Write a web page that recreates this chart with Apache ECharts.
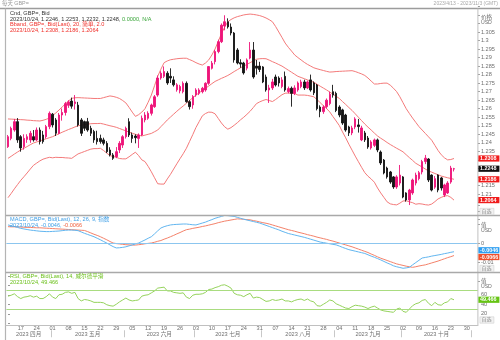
<!DOCTYPE html>
<html>
<head>
<meta charset="utf-8">
<script src="https://cdn.jsdelivr.net/npm/echarts@6/dist/echarts.min.js"></script>
<style>
html,body{margin:0;padding:0;background:#fff;}
#c{width:500px;height:340px;}
</style>
</head>
<body>
<div id="c"></div>
<script>
// Trading days on the category axis (2023)
const dates = [
 '04-11','04-12','04-13','04-14',
 '04-17','04-18','04-19','04-20','04-21','04-24','04-25','04-26','04-27','04-28',
 '05-01','05-02','05-03','05-04','05-05','05-08','05-09','05-10','05-11','05-12',
 '05-15','05-16','05-17','05-18','05-19','05-22','05-23','05-24','05-25','05-26',
 '05-29','05-30','05-31','06-01','06-02','06-05','06-06','06-07','06-08','06-09',
 '06-12','06-13','06-14','06-15','06-16','06-19','06-20','06-21','06-22','06-23',
 '06-26','06-27','06-28','06-29','06-30','07-03','07-04','07-05','07-06','07-07',
 '07-10','07-11','07-12','07-13','07-14','07-17','07-18','07-19','07-20','07-21',
 '07-24','07-25','07-26','07-27','07-28','07-31','08-01','08-02','08-03','08-04',
 '08-07','08-08','08-09','08-10','08-11','08-14','08-15','08-16','08-17','08-18',
 '08-21','08-22','08-23','08-24','08-25','08-28','08-29','08-30','08-31','09-01',
 '09-04','09-05','09-06','09-07','09-08','09-11','09-12','09-13','09-14','09-15',
 '09-18','09-19','09-20','09-21','09-22','09-25','09-26','09-27','09-28','09-29',
 '10-02','10-03','10-04','10-05','10-06','10-09','10-10','10-11','10-12','10-13',
 '10-16','10-17','10-18','10-19','10-20','10-23','10-24','10-25','10-26','10-27',
 '10-30','10-31','11-01','11-02'
];

// Weekly tick labels (Mondays) and month captions
const weekTicks = ['04-17','04-24','05-01','05-08','05-15','05-22','05-29','06-05','06-12','06-19','06-26',
 '07-03','07-10','07-17','07-24','07-31','08-07','08-14','08-21','08-28','09-04','09-11','09-18','09-25',
 '10-02','10-09','10-16','10-23','10-30'];
const monthNames = {'04':'2023 四月','05':'2023 五月','06':'2023 六月','07':'2023 七月','08':'2023 八月','09':'2023 九月','10':'2023 十月'};

// GBP= daily bid candles
const opens = [
 1.2377,1.2426,1.2475,1.2524,1.2436,1.2377,1.2420,1.2417,1.2436,1.2417,
 1.2475,1.2446,1.2436,1.2495,1.2568,1.2534,1.2456,1.2563,1.2578,1.2620,
 1.2645,1.2630,1.2621,1.2534,1.2524,1.2524,1.2485,1.2466,1.2426,1.2426,
 1.2417,1.2397,1.2358,1.2329,1.2319,1.2358,1.2387,1.2436,1.2524,1.2446,
 1.2440,1.2426,1.2446,1.2534,1.2544,1.2573,1.2612,1.2680,1.2780,1.2790,
 1.2808,1.2790,1.2769,1.2711,1.2705,1.2700,1.2749,1.2641,1.2622,1.2681,
 1.2690,1.2700,1.2710,1.2749,1.2837,1.2876,1.2935,1.2993,1.3085,1.3110,
 1.3079,1.3044,1.2944,1.2870,1.2868,1.2838,1.2897,1.2944,1.2850,1.2850,
 1.2845,1.2786,1.2710,1.2722,1.2786,1.2780,1.2730,1.2790,1.2700,1.2720,
 1.2690,1.2710,1.2730,1.2757,1.2722,1.2769,1.2751,1.2739,1.2610,1.2583,
 1.2612,1.2630,1.2700,1.2690,1.2610,1.2593,1.2563,1.2493,1.2458,1.2493,
 1.2505,1.2417,1.2458,1.2428,1.2370,1.2385,1.2417,1.2346,1.2299,1.2252,
 1.2229,1.2200,1.2141,1.2164,1.2200,1.2106,1.2065,1.2106,1.2164,1.2190,
 1.2229,1.2290,1.2305,1.2211,1.2140,1.2211,1.2194,1.2094,1.2106,1.2170,
 1.2246
];
const highs = [
 1.2446,1.2495,1.2540,1.2545,1.2445,1.2450,1.2450,1.2470,1.2475,1.2490,
 1.2490,1.2470,1.2505,1.2584,1.2575,1.2545,1.2575,1.2601,1.2640,1.2650,
 1.2665,1.2680,1.2640,1.2545,1.2530,1.2546,1.2500,1.2476,1.2471,1.2448,
 1.2430,1.2410,1.2374,1.2340,1.2375,1.2410,1.2445,1.2495,1.2544,1.2460,
 1.2450,1.2455,1.2560,1.2580,1.2585,1.2630,1.2680,1.2795,1.2820,1.2848,
 1.2820,1.2837,1.2790,1.2750,1.2740,1.2760,1.2760,1.2650,1.2680,1.2720,
 1.2720,1.2728,1.2755,1.2850,1.2880,1.2945,1.3005,1.3100,1.3148,1.3130,
 1.3100,1.3050,1.2955,1.2890,1.2875,1.2895,1.2991,1.2991,1.2886,1.2875,
 1.2850,1.2800,1.2740,1.2775,1.2800,1.2790,1.2785,1.2818,1.2730,1.2730,
 1.2737,1.2760,1.2770,1.2770,1.2765,1.2800,1.2760,1.2745,1.2620,1.2620,
 1.2660,1.2700,1.2740,1.2700,1.2620,1.2600,1.2570,1.2500,1.2500,1.2550,
 1.2540,1.2500,1.2470,1.2440,1.2415,1.2425,1.2425,1.2355,1.2305,1.2260,
 1.2235,1.2205,1.2210,1.2270,1.2205,1.2110,1.2130,1.2190,1.2225,1.2235,
 1.2300,1.2329,1.2310,1.2215,1.2205,1.2215,1.2200,1.2160,1.2175,1.2265,
 1.2253
];
const lows = [
 1.2370,1.2415,1.2465,1.2400,1.2348,1.2360,1.2400,1.2400,1.2407,1.2410,
 1.2390,1.2395,1.2425,1.2480,1.2490,1.2440,1.2450,1.2530,1.2560,1.2605,
 1.2600,1.2595,1.2495,1.2440,1.2470,1.2465,1.2440,1.2400,1.2390,1.2395,
 1.2385,1.2340,1.2320,1.2300,1.2310,1.2340,1.2370,1.2425,1.2434,1.2400,
 1.2397,1.2370,1.2440,1.2520,1.2535,1.2560,1.2605,1.2670,1.2770,1.2780,
 1.2740,1.2751,1.2730,1.2700,1.2690,1.2690,1.2635,1.2595,1.2600,1.2670,
 1.2680,1.2690,1.2700,1.2740,1.2830,1.2860,1.2925,1.2985,1.3060,1.3070,
 1.3030,1.2870,1.2860,1.2840,1.2800,1.2825,1.2890,1.2776,1.2800,1.2815,
 1.2750,1.2700,1.2634,1.2710,1.2730,1.2730,1.2720,1.2700,1.2690,1.2612,
 1.2680,1.2700,1.2720,1.2710,1.2715,1.2700,1.2680,1.2590,1.2550,1.2570,
 1.2600,1.2620,1.2665,1.2580,1.2550,1.2505,1.2465,1.2440,1.2445,1.2480,
 1.2460,1.2410,1.2405,1.2365,1.2360,1.2375,1.2345,1.2270,1.2215,1.2190,
 1.2160,1.2130,1.2130,1.2150,1.2075,1.2055,1.2035,1.2095,1.2150,1.2180,
 1.2215,1.2275,1.2170,1.2115,1.2130,1.2110,1.2120,1.2082,1.2100,1.2160,
 1.2232
];
const closes = [
 1.2436,1.2485,1.2524,1.2417,1.2370,1.2426,1.2436,1.2456,1.2417,1.2475,
 1.2407,1.2407,1.2495,1.2573,1.2505,1.2456,1.2563,1.2578,1.2630,1.2640,
 1.2615,1.2640,1.2505,1.2456,1.2485,1.2475,1.2456,1.2417,1.2407,1.2407,
 1.2397,1.2348,1.2329,1.2309,1.2348,1.2397,1.2436,1.2485,1.2446,1.2426,
 1.2430,1.2446,1.2544,1.2563,1.2573,1.2622,1.2670,1.2780,1.2808,1.2818,
 1.2751,1.2780,1.2740,1.2740,1.2730,1.2749,1.2641,1.2612,1.2671,1.2710,
 1.2710,1.2720,1.2749,1.2847,1.2867,1.2935,1.2993,1.3090,1.3110,1.3080,
 1.3044,1.2886,1.2868,1.2862,1.2810,1.2886,1.2944,1.2786,1.2838,1.2830,
 1.2757,1.2710,1.2722,1.2757,1.2739,1.2751,1.2769,1.2710,1.2718,1.2690,
 1.2722,1.2751,1.2757,1.2722,1.2757,1.2710,1.2693,1.2600,1.2583,1.2610,
 1.2650,1.2685,1.2680,1.2590,1.2563,1.2516,1.2475,1.2458,1.2487,1.2540,
 1.2495,1.2487,1.2417,1.2376,1.2405,1.2417,1.2358,1.2282,1.2223,1.2200,
 1.2170,1.2141,1.2200,1.2211,1.2082,1.2065,1.2123,1.2182,1.2211,1.2225,
 1.2290,1.2310,1.2182,1.2123,1.2190,1.2123,1.2135,1.2153,1.2164,1.2252,
 1.2248
];

// Bollinger band (20, 2.0)
const bbUpper = [
 1.2540,1.2539,1.2538,1.2537,1.2536,1.2535,1.2533,1.2532,1.2530,1.2529,
 1.2528,1.2532,1.2538,1.2545,1.2560,1.2575,1.2592,1.2610,1.2628,1.2645,
 1.2661,1.2664,1.2665,1.2664,1.2663,1.2662,1.2661,1.2660,1.2660,1.2660,
 1.2665,1.2670,1.2675,1.2672,1.2667,1.2660,1.2648,1.2634,1.2608,1.2580,
 1.2555,1.2565,1.2580,1.2600,1.2638,1.2680,1.2735,1.2790,1.2832,1.2870,
 1.2880,1.2887,1.2890,1.2893,1.2895,1.2896,1.2896,1.2888,1.2880,1.2870,
 1.2862,1.2856,1.2868,1.2886,1.2915,1.2950,1.2995,1.3040,1.3078,1.3110,
 1.3123,1.3133,1.3140,1.3145,1.3150,1.3153,1.3155,1.3153,1.3150,1.3146,
 1.3140,1.3132,1.3122,1.3110,1.3082,1.3050,1.3018,1.2985,1.2960,1.2938,
 1.2915,1.2900,1.2886,1.2872,1.2860,1.2850,1.2840,1.2834,1.2829,1.2824,
 1.2819,1.2815,1.2816,1.2818,1.2819,1.2820,1.2821,1.2822,1.2823,1.2818,
 1.2811,1.2804,1.2795,1.2780,1.2762,1.2745,1.2745,1.2748,1.2750,1.2750,
 1.2738,1.2720,1.2700,1.2670,1.2635,1.2600,1.2572,1.2545,1.2520,1.2495,
 1.2475,1.2455,1.2435,1.2415,1.2385,1.2355,1.2330,1.2312,1.2300,1.2302,
 1.2308
];
const bbMiddle = [
 1.2309,1.2321,1.2334,1.2346,1.2358,1.2368,1.2378,1.2389,1.2399,1.2405,
 1.2411,1.2418,1.2424,1.2430,1.2436,1.2445,1.2453,1.2462,1.2470,1.2478,
 1.2485,1.2493,1.2500,1.2503,1.2506,1.2509,1.2512,1.2513,1.2513,1.2514,
 1.2510,1.2505,1.2500,1.2496,1.2491,1.2484,1.2477,1.2470,1.2463,1.2456,
 1.2450,1.2445,1.2440,1.2445,1.2450,1.2455,1.2465,1.2475,1.2495,1.2514,
 1.2534,1.2551,1.2568,1.2585,1.2601,1.2616,1.2632,1.2648,1.2664,1.2680,
 1.2693,1.2707,1.2720,1.2733,1.2747,1.2760,1.2769,1.2778,1.2786,1.2795,
 1.2806,1.2818,1.2829,1.2840,1.2850,1.2860,1.2870,1.2880,1.2890,1.2893,
 1.2894,1.2893,1.2885,1.2876,1.2868,1.2859,1.2850,1.2838,1.2826,1.2814,
 1.2802,1.2790,1.2783,1.2776,1.2769,1.2762,1.2755,1.2744,1.2732,1.2721,
 1.2710,1.2698,1.2685,1.2673,1.2660,1.2642,1.2625,1.2607,1.2590,1.2570,
 1.2550,1.2530,1.2510,1.2492,1.2475,1.2457,1.2440,1.2427,1.2415,1.2402,
 1.2390,1.2379,1.2368,1.2358,1.2347,1.2330,1.2313,1.2297,1.2280,1.2269,
 1.2258,1.2246,1.2235,1.2228,1.2220,1.2213,1.2205,1.2200,1.2195,1.2191,
 1.2186
];
const bbLower = [
 1.2078,1.2103,1.2130,1.2155,1.2180,1.2201,1.2223,1.2246,1.2268,1.2281,
 1.2294,1.2304,1.2310,1.2315,1.2312,1.2315,1.2314,1.2314,1.2312,1.2311,
 1.2309,1.2322,1.2335,1.2342,1.2349,1.2356,1.2363,1.2366,1.2366,1.2368,
 1.2355,1.2340,1.2325,1.2320,1.2315,1.2308,1.2306,1.2306,1.2318,1.2332,
 1.2345,1.2325,1.2300,1.2290,1.2262,1.2230,1.2195,1.2160,1.2158,1.2158,
 1.2188,1.2215,1.2246,1.2277,1.2307,1.2336,1.2368,1.2408,1.2448,1.2490,
 1.2524,1.2558,1.2572,1.2580,1.2579,1.2570,1.2543,1.2516,1.2494,1.2480,
 1.2489,1.2503,1.2518,1.2535,1.2550,1.2567,1.2585,1.2607,1.2630,1.2640,
 1.2648,1.2654,1.2648,1.2642,1.2654,1.2668,1.2682,1.2691,1.2692,1.2690,
 1.2689,1.2680,1.2680,1.2680,1.2678,1.2674,1.2670,1.2654,1.2635,1.2618,
 1.2601,1.2581,1.2554,1.2528,1.2501,1.2464,1.2429,1.2392,1.2357,1.2322,
 1.2289,1.2256,1.2225,1.2204,1.2188,1.2169,1.2135,1.2106,1.2080,1.2054,
 1.2042,1.2038,1.2036,1.2046,1.2059,1.2060,1.2054,1.2049,1.2040,1.2043,
 1.2041,1.2037,1.2035,1.2041,1.2055,1.2071,1.2080,1.2088,1.2090,1.2080,
 1.2064
];

// MACD (12, 26, 9)
const macdLine = [
 .0095,.0091,.0087,.0082,.0077,.0074,.0071,.0068,.0066,.0064,
 .0062,.0061,.0060,.0060,.0061,.0062,.0063,.0065,.0067,.0068,
 .0068,.0067,.0065,.0058,.0051,.0045,.0039,.0033,.0025,.0017,
 .0008,.0000,-.0010,-.0019,-.0026,-.0025,-.0023,-.0020,-.0015,-.0010,
 -.0005,.0000,.0008,.0016,.0025,.0033,.0048,.0064,.0079,.0086,
 .0091,.0095,.0097,.0098,.0099,.0100,.0100,.0098,.0096,.0095,
 .0100,.0105,.0110,.0117,.0123,.0130,.0135,.0140,.0145,.0144,
 .0142,.0140,.0135,.0130,.0125,.0121,.0117,.0113,.0109,.0105,
 .0099,.0093,.0087,.0081,.0075,.0069,.0062,.0056,.0050,.0046,
 .0042,.0038,.0034,.0030,.0025,.0020,.0015,.0010,.0005,.0002,
 -.0001,-.0004,-.0007,-.0010,-.0016,-.0023,-.0029,-.0035,-.0039,-.0043,
 -.0047,-.0051,-.0055,-.0062,-.0069,-.0075,-.0082,-.0089,-.0097,-.0105,
 -.0112,-.0120,-.0125,-.0129,-.0133,-.0131,-.0128,-.0115,-.0103,-.0091,
 -.0079,-.0076,-.0073,-.0069,-.0066,-.0063,-.0060,-.0056,-.0053,-.0049,
 -.0046
];
const signalLine = [
 .0086,.0085,.0085,.0084,.0084,.0083,.0082,.0082,.0081,.0080,
 .0080,.0079,.0078,.0077,.0076,.0075,.0074,.0073,.0072,.0071,
 .0070,.0069,.0068,.0067,.0066,.0060,.0053,.0046,.0040,.0033,
 .0025,.0017,.0008,.0000,-.0003,-.0005,-.0007,-.0009,-.0010,-.0011,
 -.0011,-.0009,-.0007,-.0004,-.0002,.0000,.0004,.0009,.0013,.0020,
 .0026,.0033,.0040,.0048,.0055,.0063,.0070,.0073,.0077,.0080,
 .0083,.0087,.0090,.0094,.0098,.0102,.0107,.0111,.0115,.0118,
 .0121,.0124,.0127,.0126,.0125,.0123,.0122,.0118,.0115,.0111,
 .0107,.0104,.0100,.0095,.0090,.0085,.0080,.0075,.0070,.0066,
 .0062,.0057,.0053,.0049,.0044,.0040,.0036,.0031,.0027,.0023,
 .0019,.0014,.0010,.0005,.0000,-.0005,-.0010,-.0015,-.0020,-.0026,
 -.0032,-.0038,-.0044,-.0050,-.0058,-.0065,-.0073,-.0080,-.0086,-.0092,
 -.0098,-.0104,-.0110,-.0114,-.0118,-.0122,-.0125,-.0128,-.0125,-.0121,
 -.0118,-.0115,-.0110,-.0105,-.0100,-.0095,-.0089,-.0083,-.0077,-.0072,
 -.0066
];

// RSI (14, Wilder smoothing)
const rsiValues = [
 57,59,62,56,52,55,56,58,55,57,
 52,52,56,62,55,52,60,61,65,66,
 63,65,52,47,50,49,47,44,44,44,
 43,39,37,36,40,45,49,53,49,47,
 48,49,57,59,60,64,68,74,75,76,
 68,68,65,64,63,64,55,52,59,61,
 61,62,65,71,72,75,77,80,81,78,
 74,63,60,59,56,60,63,53,55,54,
 50,46,47,50,48,49,51,47,47,45,
 48,50,51,48,51,47,45,37,36,40,
 44,49,47,41,38,35,32,31,35,38,
 37,36,34,31,34,36,32,28,26,25,
 24,23,30,32,25,23,30,37,41,43,
 48,50,42,37,44,39,38,43,45,52,
 49.466
];

const FONT = '"Liberation Sans","Noto Sans CJK SC",sans-serif';
const AX = '#6f6f6f';
const UP = '#ee1479', DOWN = '#141414';
const BB = '#f47a7a', MACD_C = '#62b6f0', SIG_C = '#f4826a', RSI_C = '#95d35c', RSI_BAND = '#a9dc80';

const last = closes.length - 1;
const fmt = v => String(+v.toFixed(4));

const mainBoxes = [bbUpper[last], closes[last], bbMiddle[last], bbLower[last]];

const chart = echarts.init(document.getElementById('c'), null, {renderer: 'canvas', width: 500, height: 340});

const gridL = 6.4, gridR = 22.1;

// Month boundaries / mid-points in category coordinates
const monthStarts = [], monthMids = [], monthKeys = [];
{
  let start = 0;
  for (let i = 1; i <= dates.length; i++) {
    if (i === dates.length || dates[i].slice(0, 2) !== dates[i - 1].slice(0, 2)) {
      monthKeys.push(dates[start].slice(0, 2));
      monthMids.push((start + i - 1) / 2);
      if (i < dates.length) monthStarts.push(i - 0.5);
      start = i;
    }
  }
}
const monthLabelAt = {};
monthMids.forEach((m, k) => { monthLabelAt[m] = monthNames[monthKeys[k]] || ''; });

const hiddenX = {show: false};
const baseX = (gi) => ({
  type: 'category', data: dates, gridIndex: gi, boundaryGap: true,
  axisLine: hiddenX, axisTick: hiddenX, axisLabel: hiddenX, splitLine: hiddenX
});

const option = {
  animation: false,
  backgroundColor: '#fff',
  textStyle: {fontFamily: FONT},
  grid: [
    {left: gridL, right: gridR, top: 6.4, height: 213.15},
    {left: gridL, right: gridR, top: 205, height: 76},
    {left: gridL, right: gridR, top: 275.75, height: 47.5}
  ],
  xAxis: [
    baseX(0),
    baseX(1),
    {
      type: 'category', data: dates, gridIndex: 2, boundaryGap: true,
      axisLine: hiddenX, axisTick: hiddenX, splitLine: hiddenX,
      axisLabel: {
        show: true, fontSize: 5.6, color: AX, margin: 2, fontFamily: FONT,
        interval: (i, v) => weekTicks.indexOf(v) >= 0,
        formatter: v => v.slice(3)
      }
    },
    {
      type: 'value', gridIndex: 2, min: -0.5, max: dates.length - 0.5,
      position: 'bottom', offset: 7,
      axisLine: hiddenX, splitLine: hiddenX,
      axisTick: {show: true, customValues: monthStarts, length: 7, lineStyle: {color: '#c8c8c8', width: 1}},
      axisLabel: {
        show: true, customValues: monthMids, fontSize: 5.6, color: AX, margin: 1.5, fontFamily: FONT,
        formatter: v => monthLabelAt[v] || ''
      }
    }
  ],
  yAxis: [
    {
      type: 'value', gridIndex: 0, position: 'right', min: 1.195, max: 1.32, interval: 0.005,
      axisLine: {show: false}, splitLine: {show: false},
      axisTick: {show: true, length: 2, lineStyle: {color: '#999'}},
      axisLabel: {
        fontSize: 5.6, color: AX, margin: 3, fontFamily: FONT,
        formatter: v => (v > 1.3051 || v < 1.2099 || mainBoxes.some(b => Math.abs(b - v) < 0.0025)) ? '' : fmt(v)
      }
    },
    {
      type: 'value', gridIndex: 1, position: 'right', min: -0.02, max: 0.02, interval: 0.01,
      axisLine: {show: false}, splitLine: {show: false},
      axisTick: {show: true, length: 2, lineStyle: {color: '#999'}},
      axisLabel: {
        fontSize: 5.6, color: AX, margin: 3, fontFamily: FONT,
        formatter: v => (Math.abs(v) < 1e-9 || Math.abs(v + 0.01) < 1e-9) ? fmt(v) : ''
      }
    },
    {
      type: 'value', gridIndex: 2, position: 'right', min: 0, max: 100, interval: 20,
      axisLine: {show: false}, splitLine: {show: false},
      axisTick: {show: true, length: 2, lineStyle: {color: '#999'}},
      axisLabel: {
        fontSize: 5.6, color: AX, margin: 3, fontFamily: FONT,
        formatter: v => (v >= 20 && v <= 60) ? String(v) : ''
      }
    }
  ],
  series: [
    {
      type: 'line', xAxisIndex: 0, yAxisIndex: 0, data: bbUpper, showSymbol: false,
      lineStyle: {color: BB, width: 1}, z: 2, silent: true
    },
    {
      type: 'line', xAxisIndex: 0, yAxisIndex: 0, data: bbMiddle, showSymbol: false,
      lineStyle: {color: BB, width: 1}, z: 2, silent: true
    },
    {
      type: 'line', xAxisIndex: 0, yAxisIndex: 0, data: bbLower, showSymbol: false,
      lineStyle: {color: BB, width: 1}, z: 2, silent: true
    },
    {
      type: 'candlestick', xAxisIndex: 0, yAxisIndex: 0, barWidth: 2, z: 3,
      data: opens.map((o, i) => [o, closes[i], lows[i], highs[i]]),
      itemStyle: {color: UP, color0: DOWN, borderColor: UP, borderColor0: DOWN, borderWidth: 0.9}
    },
    {
      type: 'line', xAxisIndex: 1, yAxisIndex: 1, data: signalLine, showSymbol: false,
      lineStyle: {color: SIG_C, width: 1}, silent: true,
      markLine: {
        silent: true, symbol: 'none', label: {show: false},
        lineStyle: {color: '#8cc6ef', width: 1, type: 'solid'},
        data: [{yAxis: 0}]
      }
    },
    {
      type: 'line', xAxisIndex: 1, yAxisIndex: 1, data: macdLine, showSymbol: false,
      lineStyle: {color: MACD_C, width: 1}, silent: true
    },
    {
      type: 'line', xAxisIndex: 2, yAxisIndex: 2, data: rsiValues, showSymbol: false,
      lineStyle: {color: RSI_C, width: 1}, silent: true,
      markLine: {
        silent: true, symbol: 'none', label: {show: false},
        lineStyle: {color: RSI_BAND, width: 1, type: 'solid'},
        data: [{yAxis: 70}, {yAxis: 30}]
      }
    }
  ]
};
chart.setOption(option);

// Panel frames, captions, and price tags on the right-hand scales
const FR = '#a9a9a9';
const right = 500 - gridR;
const g = [];
const line = (x1, y1, x2, y2, c, w) => g.push({type: 'line', shape: {x1, y1, x2, y2}, style: {stroke: c || FR, lineWidth: w || 1}, silent: true, z: 10});
const txt = (x, y, text, fill, size, extra) => g.push(Object.assign({type: 'text', x, y, silent: true, z: 11,
  style: {text, fill: fill || AX, font: (size || 5.6) + 'px ' + FONT, verticalAlign: 'middle'}}, extra || {}));

line(0, 8.5, 500, 8.5, '#9c9c9c', 1.6);
line(5.5, 8.5, 5.5, 340, '#b4b4b4', 1.2);
line(right, 8.5, right, 326, '#c0c0c0', 1);
line(5.5, 215.5, 500, 215.5, FR, 1.5);
line(5.5, 272.5, 500, 272.5, FR, 1.5);
line(5.5, 325.5, right, 325.5, '#c0c0c0', 1);

txt(2, 3.8, '每天 GBP=', '#9a9a9a', 5.4);
g.push({type: 'text', x: 498, y: 4, silent: true, z: 11,
  style: {text: '2023/4/13 - 2023/11/3 (GMT)', fill: '#a8a8a8', font: '5px ' + FONT, align: 'right', verticalAlign: 'middle'}});

// Legend blocks
const rich = (parts) => ({
  text: parts.map((p, k) => '{s' + k + '|' + p[0] + '}').join(''),
  rich: Object.fromEntries(parts.map((p, k) => ['s' + k, {fill: p[1], font: '5.6px ' + FONT}]))
});
const legend = (x, y, parts) => g.push({type: 'text', x, y, silent: true, z: 11,
  style: Object.assign({verticalAlign: 'middle', font: '5.6px ' + FONT}, rich(parts))});

legend(10, 13.5, [['Cnd, GBP=, Bid', '#333']]);
legend(10, 19, [['2023/10/24, ' + [opens[last], highs[last], lows[last], closes[last]].map(v => v.toFixed(4)).join(', ') + ', ', '#333'], ['0.0000, N/A', '#3aa63a']]);
legend(10, 24.5, [['Bband, GBP=, Bid(Last), 20, 简单, 2.0', '#f0302a']]);
legend(10, 30, [['2023/10/24, ' + [bbUpper[last], bbMiddle[last], bbLower[last]].map(v => v.toFixed(4)).join(', '), '#f0302a']]);

legend(10, 219.5, [['MACD, GBP=, Bid(Last), 12, 26, 9, 指数', '#3f9fe6']]);
legend(10, 225, [['2023/10/24, ', '#3f9fe6'], [macdLine[last].toFixed(4), '#3f9fe6'], [', ', '#3f9fe6'], [signalLine[last].toFixed(4), '#f0603e']]);

legend(10, 276.5, [['RSI, GBP=, Bid(Last), 14, 威尔德平滑', '#6cc01c']]);
legend(10, 282, [['2023/10/24, ' + rsiValues[last].toFixed(3), '#6cc01c']]);

// Axis captions
txt(right + 3, 17, '价格', AX, 5.6);
txt(right + 3, 23, 'USD', AX, 5.2);
txt(right + 3, 225, '值', AX, 5.6);
txt(right + 3, 231, 'USD', AX, 5.2);
txt(right + 3, 281.5, '值', AX, 5.6);
txt(right + 3, 287, 'USD', AX, 5.2);

// Small scale buttons at the foot of each scale
[211.5, 268.5, 320].forEach(y => {
  g.push({type: 'rect', shape: {x: right + 2, y: y - 3.2, width: 14, height: 6.4}, style: {fill: '#f2f2f2', stroke: '#d0d0d0', lineWidth: 0.6}, silent: true, z: 11});
  txt(right + 3.5, y, '自选', '#8a8a8a', 5);
});

// Value tags
const tag = (axis, v, text, bg, nudge) => {
  const y = chart.convertToPixel({yAxisIndex: axis}, v) + (nudge || 0);
  g.push({type: 'rect', shape: {x: right + 0.5, y: y - 3.1, width: 21, height: 6.2}, style: {fill: bg}, silent: true, z: 12});
  g.push({type: 'text', x: right + 2, y, silent: true, z: 13,
    style: {text, fill: '#fff', font: 'bold 5.4px ' + FONT, verticalAlign: 'middle'}});
};
tag(0, bbUpper[last], bbUpper[last].toFixed(4), '#f01c1c');
tag(0, closes[last], closes[last].toFixed(4), '#111');
tag(0, bbMiddle[last], bbMiddle[last].toFixed(4), '#f01c1c');
tag(0, bbLower[last], bbLower[last].toFixed(4), '#f01c1c');
tag(1, macdLine[last], macdLine[last].toFixed(4), '#2f9ff0', -1.5);
tag(1, signalLine[last], signalLine[last].toFixed(4), '#f0502c', 1.5);
tag(2, rsiValues[last], rsiValues[last].toFixed(3), '#66c414');

chart.setOption({graphic: {elements: g}});
</script>
</body>
</html>
